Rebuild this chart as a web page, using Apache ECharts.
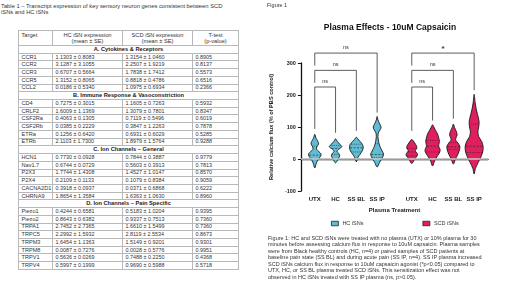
<!DOCTYPE html>
<html>
<head>
<meta charset="UTF-8">
<title>Plasma Effects - 10uM Capsaicin</title>
<style type="text/css">
	body {
		margin: 0;
		width: 520px;
		height: 287px;
		overflow: hidden;
		background: #fff;
		position: relative;
		font-family: "Liberation Sans", Arial, sans-serif;
		color: #222;
	}
	#tblTitle {
		position: absolute;
		left: 1px;
		top: 2.5px;
		font-size: 5.8px;
		line-height: 6.5px;
		color: #333;
		white-space: nowrap;
	}
	#tbl {
		position: absolute;
		left: 18px;
		top: 30px;
		width: 220px;
		border-collapse: collapse;
		table-layout: fixed;
		font-size: 5.4px;
		color: #333;
	}
	#tbl td {
		border: 1px solid #b8b8b8;
		padding: 0 0 0 2.5px;
		line-height: 5px;
		white-space: nowrap;
		overflow: hidden;
	}
	#tbl tr { height: 7.72px; }
	#tbl tr.head { height: 15px; }
	#tbl tr.head td { text-align: center; font-size: 5.7px; line-height: 6.4px; padding: 0; }
	#tbl tr.head td.first { text-align: left; vertical-align: top; padding: 1px 0 0 2.5px; }
	#tbl tr.sec td { text-align: center; font-weight: bold; font-size: 5.7px; padding: 0; color: #222; }
	#tbl td.tg { font-size: 5.6px; }
	#chart {
		position: absolute;
		left: 260px;
		top: 0;
		width: 260px;
		height: 287px;
	}
	#cap {
		position: absolute;
		left: 268px;
		top: 234.5px;
		font-size: 5.5px;
		line-height: 6.5px;
		color: #333;
		white-space: nowrap;
	}
</style>
</head>
<body>
	<div id="tblTitle">Table 1 – Transcript expression of key sensory neuron genes consistent between SCD<br>iSNs and HC iSNs</div>
	<table id="tbl">
		<colgroup><col style="width:34px"><col style="width:70px"><col style="width:70px"><col style="width:46px"></colgroup>
		<tbody></tbody>
	</table>
	<div id="chart"></div>
	<div id="cap">Figure 1: HC and SCD iSNs were treated with no plasma (UTX) or 10% plasma for 30<br>minutes before assessing calcium flux in response to 10uM capsaicin. Plasma samples<br>were from Black healthy controls (HC, n=4) or paired samples of SCD patients at<br>baseline pain state (SS BL) and during acute pain (SS IP, n=4). SS IP plasma increased<br>SCD iSNs calcium flux in response to 10uM capsaicin agonist (*p&lt;0.05) compared to<br>UTX, HC, or SS BL plasma treated SCD iSNs. This sensitization effect was not<br>observed in HC iSNs treated with SS IP plasma (ns, p&gt;0.05).</div>

	<script type="text/javascript" src="https://cdn.jsdelivr.net/npm/echarts@6.0.0/dist/echarts.min.js"></script>
	<script>
		// ---- table 1 ----
		var sections = ['A.  Cytokines & Receptors', 'B.  Immune Response & Vasoconstriction', 'C.  Ion Channels – General', 'D.  Ion Channels – Pain Specific'];
		var sectionSize = [5, 6, 6, 8];
		var targets = ['CCR1', 'CCR2', 'CCR3', 'CCR5', 'CCL2',
			'CD4', 'CRLF2', 'CSF2Ra', 'CSF2Rb', 'ETRa', 'ETRb',
			'HCN1', 'Nav1.7', 'P2X3', 'P2X4', 'CACNA2D1', 'CHRNA9',
			'Piezo1', 'Piezo2', 'TRPA1', 'TRPC5', 'TRPM3', 'TRPM8', 'TRPV1', 'TRPV4'];
		var hcExpr = ['1.1303 ± 0.8083', '3.1287 ± 3.1055', '0.6707 ± 0.5664', '1.3152 ± 0.8065', '0.0186 ± 0.5340',
			'0.7275 ± 0.3015', '1.6009 ± 1.1369', '0.4063 ± 0.1305', '0.0385 ± 0.2229', '0.1256 ± 0.6420', '2.1103 ± 1.7300',
			'0.7730 ± 0.0928', '0.6744 ± 0.0729', '1.7744 ± 1.4308', '0.2109 ± 0.1133', '0.3918 ± 0.0937', '1.8654 ± 1.3584',
			'0.4244 ± 0.6581', '0.8643 ± 0.6382', '2.7452 ± 2.7365', '2.2992 ± 1.5932', '1.6454 ± 1.1363', '0.0087 ± 0.7276', '0.5636 ± 0.0269', '0.5997 ± 0.1999'];
		var scdExpr = ['1.3154 ± 1.0460', '2.2507 ± 1.9219', '1.7838 ± 1.7412', '0.8818 ± 0.4786', '1.0975 ± 0.6934',
			'1.1605 ± 0.7263', '1.3079 ± 0.7801', '0.7119 ± 0.5496', '0.3847 ± 1.2263', '0.6931 ± 0.6029', '1.8979 ± 1.5764',
			'0.7844 ± 0.3887', '0.5603 ± 0.3913', '1.4527 ± 1.0147', '0.1079 ± 0.8384', '0.0371 ± 0.6868', '1.6363 ± 1.0630',
			'0.5183 ± 1.0204', '0.9337 ± 0.7513', '1.6610 ± 1.5499', '2.8119 ± 2.5534', '1.5149 ± 0.9201', '0.0028 ± 0.5776', '0.7488 ± 0.2250', '0.9690 ± 0.5988'];
		var pValues = ['0.8905', '0.8137', '0.5573', '0.6516', '0.2366',
			'0.5932', '0.8347', '0.6019', '0.7878', '0.5285', '0.9288',
			'0.9779', '0.7813', '0.8570', '0.9059', '0.6222', '0.8960',
			'0.9395', '0.7360', '0.7360', '0.8673', '0.9301', '0.9951', '0.4368', '0.5718'];

		var tb = document.querySelector('#tbl tbody');
		var html = '<tr class="head"><td class="first">Target</td><td>HC iSN expression<br>(mean ± SE)</td>' +
			'<td>SCD iSN expression<br>(mean ± SE)</td><td>T-test<br>(p-value)</td></tr>';
		var k = 0;
		for (var s = 0; s < sections.length; s++) {
			html += '<tr class="sec"><td colspan="4">' + sections[s] + '</td></tr>';
			for (var j = 0; j < sectionSize[s]; j++) {
				html += '<tr><td class="tg">' + targets[k] + '</td><td>' + hcExpr[k] + '</td><td>' + scdExpr[k] + '</td><td>' + pValues[k] + '</td></tr>';
				k++;
			}
		}
		tb.innerHTML = html;

		// ---- figure 1 ----
		var categories = ['UTX', 'HC', 'SS BL', 'SS IP'];
		var groupNames = ['HC iSNs', 'SCD iSNs'];
		var groupColors = ['#5fbcd3', '#e0205e'];

		// violin outlines: [value, half width]
		var hcViolins = [
			[[-28, 0], [-12, 0.08], [0, 0.18], [10, 0.29], [16, 0.3], [23, 0.2], [30, 0.09], [38, 0.1], [47, 0.18], [55, 0.15], [65, 0.06], [77, 0]],
			[[-12, 0], [0, 0.12], [10, 0.2], [16, 0.17], [24, 0.07], [31, 0.16], [38, 0.3], [45, 0.22], [55, 0.08], [63, 0]],
			[[-8, 0], [5, 0.08], [15, 0.18], [25, 0.28], [35, 0.33], [45, 0.3], [55, 0.18], [62, 0.08], [68, 0]],
			[[-25, 0], [-10, 0.12], [5, 0.26], [15, 0.31], [25, 0.24], [40, 0.13], [55, 0.07], [70, 0.04], [82, 0.06], [92, 0.15], [100, 0.19], [110, 0.12], [122, 0.04], [133, 0]]
		];
		var scdViolins = [
			[[-14, 0], [0, 0.14], [10, 0.26], [16, 0.27], [22, 0.2], [27, 0.17], [33, 0.24], [40, 0.23], [50, 0.14], [61, 0]],
			[[-22, 0], [-5, 0.1], [10, 0.24], [22, 0.35], [30, 0.36], [38, 0.3], [45, 0.3], [55, 0.33], [65, 0.3], [78, 0.24], [90, 0.14], [100, 0.06], [107, 0]],
			[[-16, 0], [0, 0.1], [15, 0.22], [30, 0.3], [40, 0.31], [50, 0.22], [58, 0.12], [65, 0.12], [75, 0.18], [85, 0.15], [98, 0.06], [109, 0]],
			[[-47, 0], [-30, 0.06], [-10, 0.2], [10, 0.35], [25, 0.42], [40, 0.43], [55, 0.36], [70, 0.22], [85, 0.18], [100, 0.22], [115, 0.24], [130, 0.2], [150, 0.12], [175, 0.05], [202, 0]]
		];
		// [q1, median, q3]
		var hcQuartiles = [[-2, 12, 40], [14, 33, 42], [22, 35, 46], [4, 14, 48]];
		var scdQuartiles = [[10, 22, 33], [22, 40, 58], [30, 38, 52], [20, 40, 109]];

		// comparisons: [group, from, to, bracket level, left leg end, right leg end, label]
		var brackets = [
			[0, 0, 3, 331, 292, 145, 'ns'],
			[0, 0, 2, 277, 238, 88, 'ns'],
			[0, 0, 1, 225, 94, 82, 'ns'],
			[1, 0, 3, 331, 292, 215, '*'],
			[1, 0, 2, 277, 238, 126, 'ns'],
			[1, 0, 1, 225, 88, 120, 'ns']
		];

		// slot position on the x axis (two groups with a gap)
		function slotPos(g, i) {
			return 2 / 3 + i + g * 14 / 3;
		}
		var tickPos = [];
		for (var g = 0; g < 2; g++) {
			for (var i = 0; i < categories.length; i++) tickPos.push(slotPos(g, i));
		}

		function halfAt(prof, v) {
			for (var i = 1; i < prof.length; i++) {
				if (v <= prof[i][0]) {
					var t = (v - prof[i - 1][0]) / (prof[i][0] - prof[i - 1][0]);
					return prof[i - 1][1] + t * (prof[i][1] - prof[i - 1][1]);
				}
			}
			return 0;
		}

		function violinRender(profiles, quarts) {
			return function (params, api) {
				var idx = params.dataIndex;
				var x0 = api.value(0);
				var prof = profiles[idx];
				var pts = [];
				for (var i = 0; i < prof.length; i++) pts.push(api.coord([x0 + prof[i][1], prof[i][0]]));
				for (var i = prof.length - 2; i > 0; i--) pts.push(api.coord([x0 - prof[i][1], prof[i][0]]));
				var children = [{
					type: 'polygon',
					shape: { points: pts, smooth: 0.3 },
					style: { fill: api.visual('color'), stroke: '#1a1a1a', lineWidth: 0.9 }
				}];
				quarts[idx].forEach(function (q, n) {
					var w = halfAt(prof, q) * 0.92;
					var a = api.coord([x0 - w, q]), b = api.coord([x0 + w, q]);
					children.push({
						type: 'line',
						shape: { x1: a[0], y1: a[1], x2: b[0], y2: b[1] },
						style: { stroke: '#1a1a1a', lineWidth: 0.6, lineDash: n == 1 ? [2, 1.5] : [0.8, 1] }
					});
				});
				return { type: 'group', children: children };
			};
		}

		function bracketRender(params, api) {
			var b = brackets[params.dataIndex];
			var xa = slotPos(b[0], b[1]), xb = slotPos(b[0], b[2]);
			var p1 = api.coord([xa, b[4]]), p2 = api.coord([xa, b[3]]), p3 = api.coord([xb, b[3]]), p4 = api.coord([xb, b[5]]);
			var star = b[6] == '*';
			return {
				type: 'group',
				children: [{
					type: 'polyline',
					shape: { points: [p1, p2, p3, p4] },
					style: { stroke: '#333', lineWidth: 0.8, fill: null }
				}, {
					type: 'text',
					style: {
						x: (p2[0] + p3[0]) / 2, y: p2[1] - (star ? 4 : 6),
						text: b[6], align: 'center', verticalAlign: 'middle',
						fontSize: star ? 8 : 5.5, fontWeight: star ? 'bold' : 'normal',
						fill: '#333', fontFamily: 'Liberation Sans'
					}
				}]
			};
		}

		var chart = echarts.init(document.getElementById('chart'));
		var option = {
			animation: false,
			textStyle: { fontFamily: 'Liberation Sans' },
			title: {
				text: 'Plasma Effects - 10uM Capsaicin',
				left: 'center',
				top: 18,
				textStyle: { fontSize: 8.5, fontWeight: 'bold', color: '#111' }
			},
			graphic: [{
				type: 'text', left: 7, top: 2,
				style: { text: 'Figure 1', fontSize: 5.5, fill: '#333', fontFamily: 'Liberation Sans' }
			}],
			legend: {
				data: groupNames,
				left: 66,
				top: 215.5,
				icon: 'rect',
				itemWidth: 7,
				itemHeight: 4.5,
				itemGap: 59,
				itemStyle: { borderColor: '#222', borderWidth: 0.8 },
				textStyle: { fontSize: 5.5, color: '#333', padding: [0, 0, 0, -1] }
			},
			grid: { left: 38, right: 32, top: 63, bottom: 96 },
			xAxis: {
				type: 'value',
				min: 0,
				max: 9,
				name: 'Plasma Treatment',
				nameLocation: 'middle',
				nameGap: 16,
				nameTextStyle: { fontSize: 6, fontWeight: 'bold', color: '#222' },
				axisLine: { lineStyle: { color: '#111', width: 1.3 } },
				axisTick: { customValues: tickPos, length: 3, lineStyle: { color: '#111', width: 1 } },
				axisLabel: {
					customValues: tickPos,
					margin: 5,
					fontSize: 6,
					fontWeight: 'bold',
					color: '#222',
					formatter: function (v) {
						var best = 0;
						for (var i = 0; i < tickPos.length; i++) if (Math.abs(tickPos[i] - v) < Math.abs(tickPos[best] - v)) best = i;
						return categories[best % categories.length];
					}
				},
				splitLine: { show: false }
			},
			yAxis: {
				type: 'value',
				min: -100,
				max: 300,
				interval: 100,
				name: 'Relative calcium flux (% of PBS control)',
				nameLocation: 'middle',
				nameGap: 22,
				nameTextStyle: { fontSize: 5.6, fontWeight: 'bold', color: '#222' },
				axisLine: { show: true, lineStyle: { color: '#111', width: 1.3 } },
				axisTick: { show: true, length: 3, lineStyle: { color: '#111', width: 1 } },
				axisLabel: { fontSize: 5.5, fontWeight: 'bold', color: '#222', margin: 5 },
				splitLine: { show: false }
			},
			series: [{
				name: 'brackets',
				type: 'custom',
				z: 1,
				clip: false,
				silent: true,
				data: brackets.map(function (b, i) { return [i]; }),
				renderItem: bracketRender,
				markLine: {
					silent: true,
					symbol: 'none',
					label: { show: false },
					lineStyle: { color: '#c8c8c8', width: 1.5, type: 'solid' },
					data: [{ yAxis: 0 }]
				}
			}, {
				name: groupNames[0],
				type: 'custom',
				z: 3,
				clip: false,
				itemStyle: { color: groupColors[0] },
				data: hcViolins.map(function (p, i) { return [slotPos(0, i)]; }),
				renderItem: violinRender(hcViolins, hcQuartiles)
			}, {
				name: groupNames[1],
				type: 'custom',
				z: 3,
				clip: false,
				itemStyle: { color: groupColors[1] },
				data: scdViolins.map(function (p, i) { return [slotPos(1, i)]; }),
				renderItem: violinRender(scdViolins, scdQuartiles)
			}]
		};
		chart.setOption(option);
	</script>
</body>
</html>
